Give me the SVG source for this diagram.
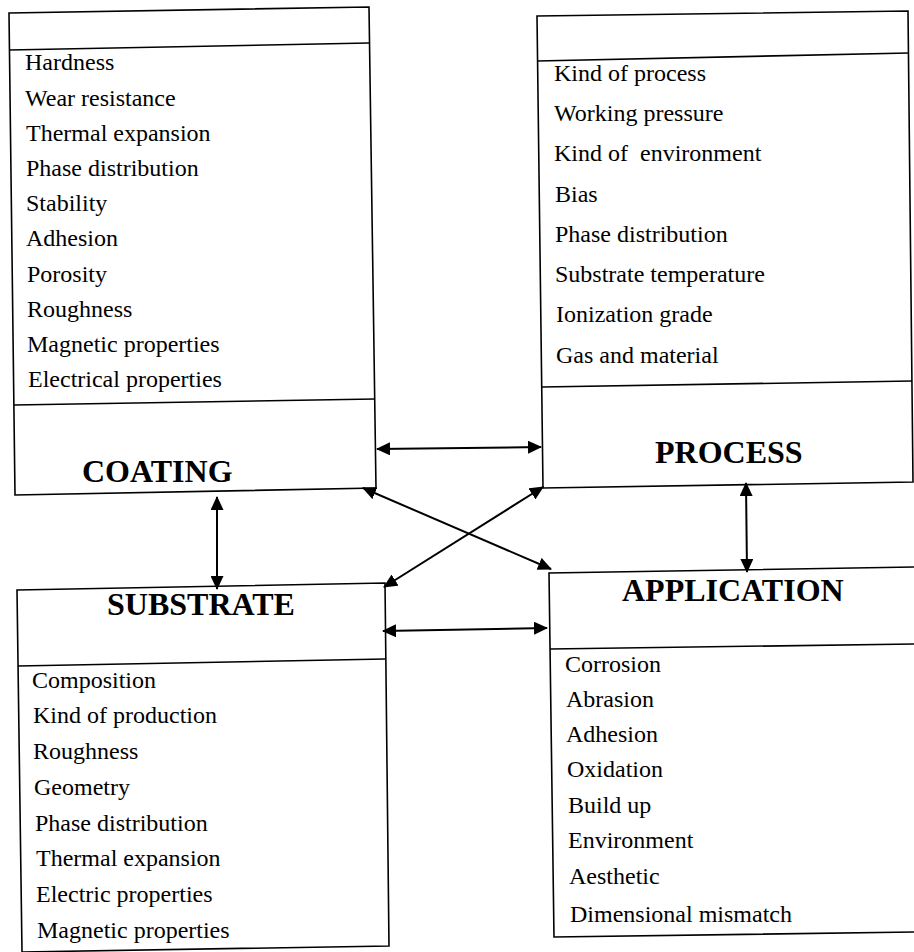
<svg xmlns="http://www.w3.org/2000/svg" width="914" height="952" viewBox="0 0 914 952">
<style>
  .box { fill: none; stroke: #000; stroke-width: 1.6; stroke-linejoin: miter; }
  .div { fill: none; stroke: #000; stroke-width: 1.6; }
  .item { font-family: "Liberation Serif", "Times New Roman", serif; font-size: 24px; fill: #000; }
  .title { font-family: "Liberation Serif", "Times New Roman", serif; font-size: 32px; font-weight: bold; fill: #000; }
  .conn { fill: none; stroke: #000; stroke-width: 2; marker-start: url(#ah); marker-end: url(#ah); }
</style>
<defs>
  <marker id="ah" viewBox="0 0 14 13" refX="13" refY="6.5" markerWidth="14" markerHeight="13" markerUnits="userSpaceOnUse" orient="auto-start-reverse">
    <path d="M0,0 L14,6.5 L0,13 z" fill="#000"/>
  </marker>
</defs>
<rect width="914" height="952" fill="#fff"/>

<g id="coating">
  <polygon class="box" points="9,13 369,7 376,488 15,495"/>
  <line class="div" x1="9" y1="50" x2="369" y2="43"/>
  <line class="div" x1="14" y1="405" x2="375" y2="399"/>
  <text class="item" x="25" y="70">Hardness</text>
  <text class="item" x="25" y="106">Wear resistance</text>
  <text class="item" x="26" y="141">Thermal expansion</text>
  <text class="item" x="26" y="176">Phase distribution</text>
  <text class="item" x="26" y="211">Stability</text>
  <text class="item" x="26" y="246">Adhesion</text>
  <text class="item" x="27" y="282">Porosity</text>
  <text class="item" x="27" y="317">Roughness</text>
  <text class="item" x="27" y="352">Magnetic properties</text>
  <text class="item" x="28" y="387">Electrical properties</text>
  <text class="title" x="82" y="482">COATING</text>
</g>

<g id="process">
  <polygon class="box" points="537,16 908,11 913,482 543,488"/>
  <line class="div" x1="537" y1="61" x2="909" y2="53"/>
  <line class="div" x1="542" y1="387" x2="912" y2="381"/>
  <text class="item" x="554" y="81">Kind of process</text>
  <text class="item" x="554" y="121">Working pressure</text>
  <text class="item" x="554" y="161" xml:space="preserve">Kind of  environment</text>
  <text class="item" x="555" y="202">Bias</text>
  <text class="item" x="555" y="242">Phase distribution</text>
  <text class="item" x="555" y="282">Substrate temperature</text>
  <text class="item" x="556" y="322">Ionization grade</text>
  <text class="item" x="556" y="363">Gas and material</text>
  <text class="title" x="655" y="463">PROCESS</text>
</g>

<g id="substrate">
  <polygon class="box" points="17,590 385,583 389,946 22,952"/>
  <line class="div" x1="18" y1="666" x2="385" y2="659"/>
  <text class="title" x="107" y="615">SUBSTRATE</text>
  <text class="item" x="32" y="688">Composition</text>
  <text class="item" x="33" y="723">Kind of production</text>
  <text class="item" x="33" y="759">Roughness</text>
  <text class="item" x="34" y="795">Geometry</text>
  <text class="item" x="35" y="831">Phase distribution</text>
  <text class="item" x="36" y="866">Thermal expansion</text>
  <text class="item" x="36" y="902">Electric properties</text>
  <text class="item" x="37" y="938">Magnetic properties</text>
</g>

<g id="application">
  <polyline class="box" points="914,567 549,573 554,937 914,932"/>
  <line class="div" x1="550" y1="649" x2="914" y2="644"/>
  <text class="title" x="622" y="601">APPLICATION</text>
  <text class="item" x="565" y="672">Corrosion</text>
  <text class="item" x="566" y="707">Abrasion</text>
  <text class="item" x="566" y="742">Adhesion</text>
  <text class="item" x="567" y="777">Oxidation</text>
  <text class="item" x="568" y="813">Build up</text>
  <text class="item" x="568" y="848">Environment</text>
  <text class="item" x="569" y="884">Aesthetic</text>
  <text class="item" x="570" y="922">Dimensional mismatch</text>
</g>

<g id="connectors">
  <line class="conn" x1="377" y1="449" x2="541" y2="447"/>
  <line class="conn" x1="217" y1="497" x2="217" y2="589"/>
  <line class="conn" x1="746" y1="483" x2="747" y2="572"/>
  <line class="conn" x1="383" y1="631" x2="547" y2="628"/>
  <line class="conn" x1="363" y1="488" x2="551" y2="569"/>
  <line class="conn" x1="543" y1="487" x2="384" y2="587"/>
</g>
</svg>
